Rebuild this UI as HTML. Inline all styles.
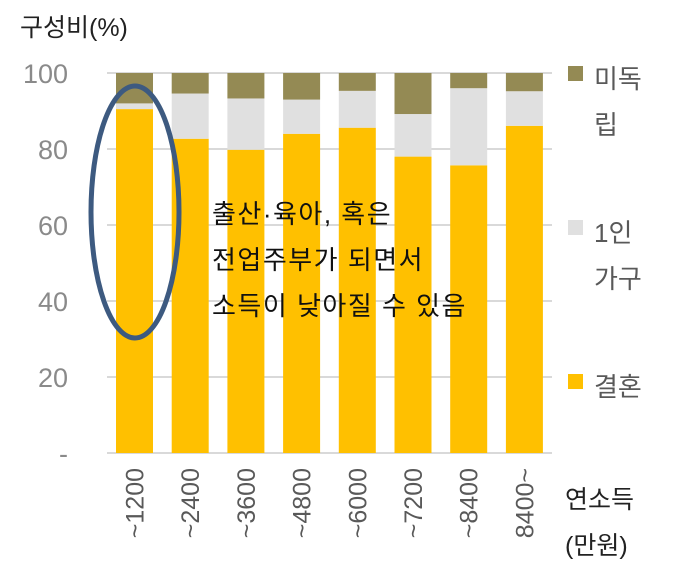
<!DOCTYPE html>
<html><head><meta charset="utf-8"><style>
body{margin:0;background:#fff;width:676px;height:573px;overflow:hidden}
text{font-family:"Liberation Sans","Noto Sans CJK KR",sans-serif}
</style></head><body>
<svg id="chart" width="676" height="573" viewBox="0 0 676 573"></svg>
<script>
const categories=["~1200","~2400","~3600","~4800","~6000","~7200","~8400","8400~"];
const marriage=[90.5,82.7,79.8,84,85.6,78,75.7,86.1];
const single=[1.5,11.9,13.5,9,9.7,11.2,20.3,9.1];
const unindependent=[8,5.4,6.7,7,4.7,10.8,4,4.8];
const yTicks=[0,20,40,60,80,100];
const yTickLabels=["-","20","40","60","80","100"];
const NS="http://www.w3.org/2000/svg";
const svg=document.getElementById('chart');
function el(t,a,p){const e=document.createElementNS(NS,t);for(const k in a)e.setAttribute(k,a[k]);(p||svg).appendChild(e);return e;}
const y0=453,ppu=3.8;
const y=v=>y0-v*ppu;
const x=i=>116+i*55.7;
const bw=37;
const t0=el('text',{x:20,y:36,'font-size':25,fill:'#222'});t0.textContent='구성비(%)';

yTicks.forEach((v,i)=>{
 if(v>0){const g=el('line',{x1:107,x2:552,y1:y(v),y2:y(v),stroke:'#d9d9d9','stroke-width':2});
 }
 const t=el('text',{x:68,y:y(v)+10,'font-size':27,fill:'#8a8a8a','text-anchor':'end'});
 t.textContent=yTickLabels[i];
 
});
const ax=el('line',{x1:107,x2:552,y1:y0,y2:y0,stroke:'#d9d9d9','stroke-width':2});

categories.forEach((c,i)=>{
 let base=0;
 [[marriage,'#ffc000','bar-marriage'],[single,'#e0e0e0','bar-single'],[unindependent,'#948a54','bar-unindependent']].forEach(([arr,col,nm])=>{
  const r=el('rect',{x:x(i),y:y(base+arr[i]),width:bw,height:arr[i]*ppu,fill:col});
  
  base+=arr[i];
 });
 const cx=x(i)+bw/2+9;
 const t=el('text',{x:cx,y:468,'font-size':25,fill:'#595959','text-anchor':'end',transform:`rotate(-90 ${cx} 468)`});
 t.textContent=c;
 
});
const e=el('ellipse',{cx:135,cy:212,rx:44,ry:126,fill:'none',stroke:'#3d5a80','stroke-width':5});

["출산·육아, 혹은","전업주부가 되면서","소득이 낮아질 수 있음"].forEach((s,i)=>{
 const t=el('text',{x:212,y:223+i*46,'font-size':26,fill:'#111','letter-spacing':1.5});t.textContent=s;
 
});
const leg=[['#948a54',['미독','립'],76],['#e0e0e0',['1인','가구'],230],['#ffc000',['결혼'],384]];
leg.forEach(([c,ls,ty])=>{
 const r=el('rect',{x:568,y:ty-10,width:15,height:15,fill:c});
 
 ls.forEach((s,j)=>{const t=el('text',{x:594,y:ty+12+j*46,'font-size':26,fill:'#595959'});t.textContent=s;
 });
});
["연소득","(만원)"].forEach((s,i)=>{
 const t=el('text',{x:565,y:508+i*46,'font-size':25,fill:'#222'});t.textContent=s;
 
});
</script>
</body></html>
